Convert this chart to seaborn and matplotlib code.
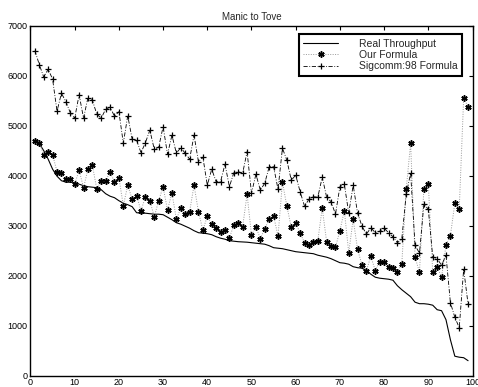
import matplotlib
matplotlib.use("Agg")
import matplotlib.pyplot as plt
import seaborn as sns
import pandas as pd

# ---- data ----
x = list(range(1, 100))

real = [4700, 4640, 4500, 4330, 4130, 3990, 3900, 3870, 3870, 3860,
        3830, 3800, 3780, 3770, 3760, 3720, 3640, 3590, 3560, 3500,
        3450, 3420, 3380, 3260, 3250, 3250, 3240, 3230, 3230, 3220,
        3170, 3120, 3060, 3030, 2990, 2950, 2900, 2860, 2850, 2840,
        2820, 2780, 2750, 2730, 2700, 2690, 2680, 2675, 2670, 2660,
        2650, 2640, 2630, 2600, 2560, 2550, 2540, 2520, 2500, 2480,
        2470, 2460, 2450, 2440, 2410, 2390, 2370, 2340, 2300, 2260,
        2250, 2230, 2180, 2160, 2150, 2100, 2030, 1970, 1950, 1940,
        1930, 1910, 1800, 1720, 1650, 1580, 1470, 1440, 1440, 1430,
        1410, 1320, 1300, 1120, 720, 390, 370, 360, 300]

ours = [4700, 4660, 4410, 4470, 4420, 4080, 4050, 3930, 3930, 3830,
        4110, 3760, 4130, 4210, 3730, 3900, 3890, 4080, 3870, 3960,
        3400, 3810, 3530, 3600, 3300, 3580, 3500, 3180, 3500, 3780,
        3310, 3660, 3130, 3350, 3230, 3280, 3810, 3280, 2910, 3190,
        3030, 2960, 2880, 2910, 2760, 3010, 3060, 2980, 3630, 2810,
        2980, 2740, 2940, 3130, 3200, 2790, 3870, 3390, 2970, 3060,
        2850, 2660, 2610, 2670, 2700, 3350, 2680, 2590, 2570, 2900,
        3300, 2460, 3130, 2530, 2210, 2100, 2390, 2100, 2280, 2280,
        2180, 2160, 2070, 2230, 3730, 4650, 2370, 2070, 3740, 3840,
        2070, 2180, 1970, 2610, 2800, 3450, 3340, 5550, 5380]

sigcomm = [6500, 6220, 5970, 6130, 5930, 5290, 5650, 5480, 5260, 5150,
           5620, 5150, 5560, 5510, 5230, 5150, 5330, 5370, 5190, 5280,
           4650, 5200, 4730, 4710, 4460, 4660, 4910, 4530, 4570, 4980,
           4430, 4810, 4450, 4560, 4450, 4330, 4810, 4280, 4370, 3810,
           4130, 3880, 3880, 4230, 3780, 4060, 4080, 4050, 4480, 3650,
           4030, 3710, 3850, 4180, 4180, 3730, 4550, 4310, 3910, 4010,
           3680, 3390, 3530, 3580, 3570, 3970, 3570, 3480, 3230, 3780,
           3830, 3250, 3810, 3250, 2990, 2830, 2960, 2860, 2890, 2950,
           2860, 2780, 2660, 2730, 3630, 4050, 2610, 2450, 3430, 3330,
           2380, 2340, 2210, 2410, 1460, 1170, 960, 2130, 1430]

labels = ["Real Throughput", "Our Formula", "Sigcomm:98 Formula"]
title = "Manic to Tove"
xticks = list(range(0, 101, 10))
yticks = list(range(0, 7001, 1000))

df = pd.DataFrame({"x": x, "real": real, "ours": ours, "sigcomm": sigcomm})

sns.set_style("white")
plt.rcParams["font.family"] = ["Liberation Sans", "DejaVu Sans"]

fig = plt.figure(figsize=(4.78, 3.87), dpi=100)
ax = fig.add_axes([0.0638, 0.0292, 0.9247, 0.9044])

sns.lineplot(data=df, x="x", y="real", ax=ax, color="black", lw=0.8,
             estimator=None, label=labels[0])
sns.lineplot(data=df, x="x", y="ours", ax=ax, color="0.6", lw=0.7,
             linestyle=(0, (1, 1.5)), marker=(6, 2, 0), markersize=4.5,
             markeredgewidth=1.1, markeredgecolor="black",
             markerfacecolor="black", estimator=None, label=labels[1])
sns.lineplot(data=df, x="x", y="sigcomm", ax=ax, color="black", lw=0.6,
             linestyle=(0, (5, 2, 1, 2)), marker="+", markersize=5,
             markeredgewidth=0.9, markeredgecolor="black",
             markerfacecolor="black", estimator=None, label=labels[2])

ax.set_xlim(0, 100)
ax.set_ylim(0, 7000)
ax.set_xticks(xticks)
ax.set_yticks(yticks)
ax.set_xlabel("")
ax.set_ylabel("")
ax.set_title(title, fontsize=7, pad=4)
ax.tick_params(direction="in", length=3, width=0.8, labelsize=6.5,
               top=True, right=True, pad=2, colors="black")
for s in ax.spines.values():
    s.set_visible(True)
    s.set_color("black")
    s.set_linewidth(1.0)

leg = ax.legend(loc="upper right", bbox_to_anchor=(0.976, 0.976),
                borderaxespad=0, fontsize=7.5, numpoints=1,
                handlelength=3.3, handletextpad=2.0, labelspacing=0.12,
                borderpad=0.45, fancybox=False, framealpha=1,
                edgecolor="black")
leg.get_frame().set_linewidth(1.5)

fig.savefig("out.png", dpi=100)
